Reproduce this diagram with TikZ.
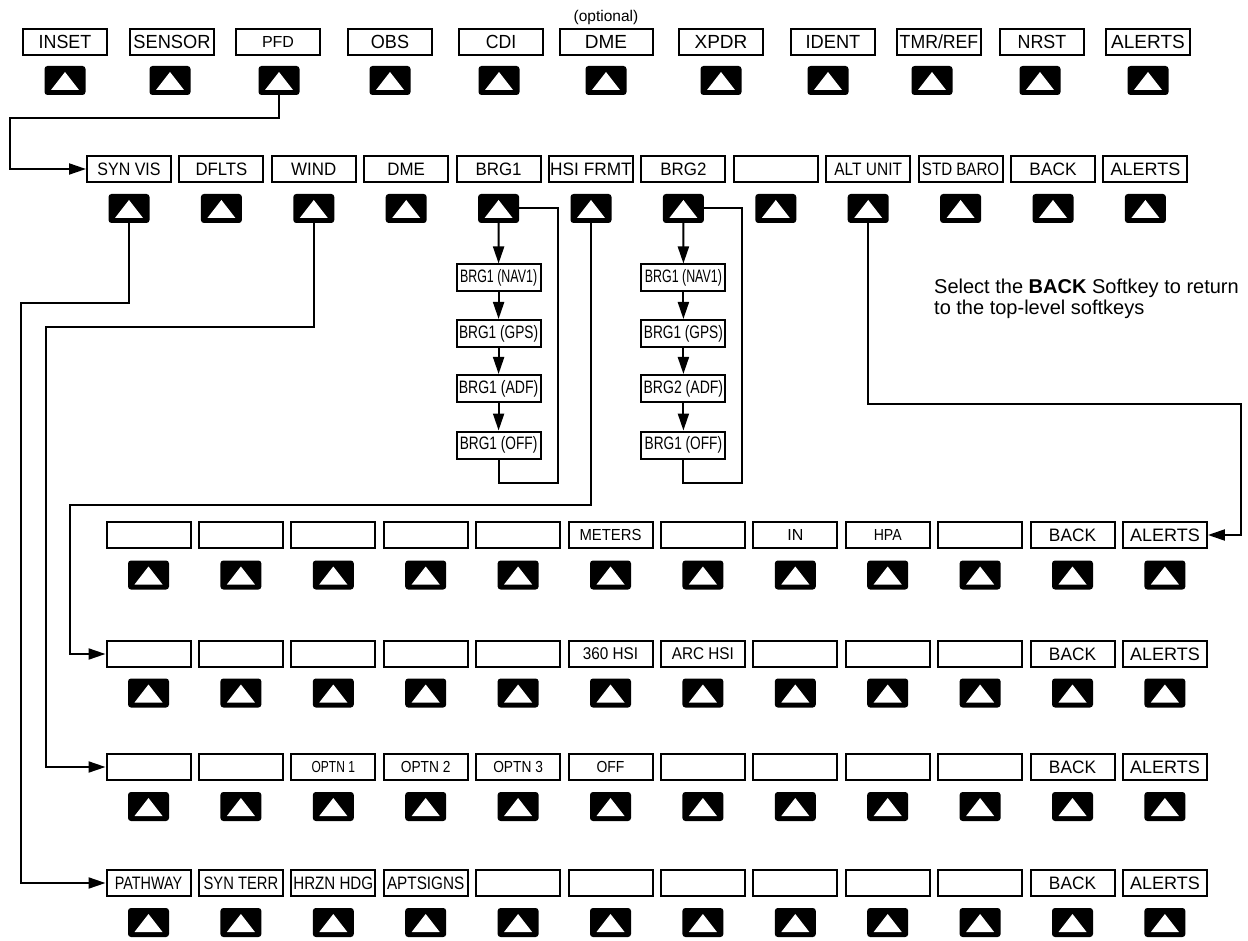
\documentclass[tikz,border=0pt]{standalone}
\usepackage{fontspec}
\usepackage{graphicx}
\setmainfont{Liberation Sans}
\usetikzlibrary{arrows.meta}
\newcommand{\sq}[2]{\scalebox{#1}[1]{#2}}
\newcommand{\sm}{\fontsize{16}{16}\selectfont}
\newcommand{\md}{\fontsize{17}{17}\selectfont}
\newcommand{\bg}{\fontsize{19}{19}\selectfont}
\begin{document}
\begin{tikzpicture}[x=1pt,y=-1pt,
  key/.style={draw, line width=2pt, minimum width=84pt, minimum height=26pt, inner sep=0pt, font=\fontsize{18}{18}\selectfont},
  btn/.style={fill=black, rounded corners=3pt, minimum width=41pt, minimum height=29pt, inner sep=0pt,
    path picture={\fill[white,sharp corners] ([xshift=-14pt,yshift=-9.5pt]path picture bounding box.center) -- ([xshift=14pt,yshift=-9.5pt]path picture bounding box.center) -- ([yshift=8.5pt]path picture bounding box.center) -- cycle;}},
  conn/.style={line width=2pt},
  arr/.style={conn, -{Triangle[length=17pt,width=11pt]}},
  sub/.style={key, minimum height=27pt, font=\fontsize{18}{18}\selectfont},
]
\useasboundingbox (0,0) rectangle (1248,941);

% top row
\foreach \n/\x/\bx/\w/\s/\t in {1/65/65/84/0.94/INSET, 2/172/170/84/0.96/SENSOR, 3/278/279/84/1/{\sm PFD}, 4/390/390/84/0.95/OBS, 5/501/499/84/0.93/CDI, 6/606/606/93/1/DME, 7/721/721/84/1/XPDR, 8/833/828/84/0.96/IDENT, 9/939/932/84/0.93/{TMR/REF}, 10/1042/1040/84/0.94/NRST, 11/1148/1148/84/1/ALERTS}{
  \node[key, minimum width=\w pt, font=\bg] (t\n) at (\x,42) {\sq{\s}{\t}};
  \node[btn] (tb\n) at (\bx,80.5) {};
}
\node[font=\fontsize{15.5}{15.5}\selectfont, inner sep=0pt] (opt) at (606,17) {(optional)};

% second row
\foreach \i/\s/\t in {0/0.89/SYN VIS,1/0.93/DFLTS,2/0.94/WIND,3/0.94/DME,4/0.94/BRG1,5/0.96/HSI FRMT,6/0.94/BRG2,7/1/{},8/0.86/ALT UNIT,9/0.84/STD BARO,10/0.96/BACK,11/1/ALERTS}{
  \node[key] (r2k\i) at ({129+92.4*\i},169) {\sq{\s}{\t}};
  \node[btn] (r2b\i) at ({129+92.4*\i},208.5) {};
}

% row 3
\foreach \i/\s/\t in {0/1/{},1/1/{},2/1/{},3/1/{},4/1/{},5/0.93/\sm METERS,6/1/{},7/1/\sm IN,8/0.88/\sm HPA,9/1/{},10/0.96/BACK,11/1/ALERTS}{
  \node[key] (r3k\i) at ({148.5+92.4*\i},535) {\sq{\s}{\t}};
  \node[btn] (r3b\i) at ({148.5+92.4*\i},575) {};
}
% row 4
\foreach \i/\s/\t in {0/1/{},1/1/{},2/1/{},3/1/{},4/1/{},5/0.9/\md 360 HSI,6/0.9/\md ARC HSI,7/1/{},8/1/{},9/1/{},10/0.96/BACK,11/1/ALERTS}{
  \node[key] (r4k\i) at ({148.5+92.4*\i},654) {\sq{\s}{\t}};
  \node[btn] (r4b\i) at ({148.5+92.4*\i},693) {};
}
% row 5
\foreach \i/\s/\t in {0/1/{},1/1/{},2/0.75/\sm OPTN 1,3/0.86/\sm OPTN 2,4/0.86/\sm OPTN 3,5/0.87/\sm OFF,6/1/{},7/1/{},8/1/{},9/1/{},10/0.96/BACK,11/1/ALERTS}{
  \node[key] (r5k\i) at ({148.5+92.4*\i},767) {\sq{\s}{\t}};
  \node[btn] (r5b\i) at ({148.5+92.4*\i},806.5) {};
}
% row 6
\foreach \i/\s/\t in {0/0.8/PATHWAY,1/0.82/SYN TERR,2/0.84/HRZN HDG,3/0.85/APTSIGNS,4/1/{},5/1/{},6/1/{},7/1/{},8/1/{},9/1/{},10/0.96/BACK,11/1/ALERTS}{
  \node[key] (r6k\i) at ({148.5+92.4*\i},883) {\sq{\s}{\t}};
  \node[btn] (r6b\i) at ({148.5+92.4*\i},922.5) {};
}

% BRG1 sub boxes
\node[sub] (s1a) at (498.6,278) {\sq{0.69}{BRG1 (NAV1)}};
\node[sub] (s1b) at (498.6,333.5) {\sq{0.76}{BRG1 (GPS)}};
\node[sub] (s1c) at (498.6,388.5) {\sq{0.78}{BRG1 (ADF)}};
\node[sub] (s1d) at (498.6,445) {\sq{0.76}{BRG1 (OFF)}};
% BRG2 sub boxes
\node[sub] (s2a) at (683.4,278) {\sq{0.69}{BRG1 (NAV1)}};
\node[sub] (s2b) at (683.4,333.5) {\sq{0.76}{BRG1 (GPS)}};
\node[sub] (s2c) at (683.4,388.5) {\sq{0.78}{BRG2 (ADF)}};
\node[sub] (s2d) at (683.4,445) {\sq{0.76}{BRG1 (OFF)}};

\draw[arr] (r2b4.south) -- (s1a.north);
\draw[arr] (s1a.south) -- (s1b.north);
\draw[arr] (s1b.south) -- (s1c.north);
\draw[arr] (s1c.south) -- (s1d.north);
\coordinate (l1) at (558,483);
\draw[conn] (r2b4.east) -| (l1) -| (s1d.south);

\draw[arr] (r2b6.south) -- (s2a.north);
\draw[arr] (s2a.south) -- (s2b.north);
\draw[arr] (s2b.south) -- (s2c.north);
\draw[arr] (s2c.south) -- (s2d.north);
\coordinate (l2) at (742,483);
\draw[conn] (r2b6.east) -| (l2) -| (s2d.south);

% main connectors
\coordinate (c1) at (10,118);
\draw[arr] (tb3.south) |- (c1) |- (r2k0.west);
\coordinate (c2) at (21,303);
\draw[arr] (r2b0.south) |- (c2) |- (r6k0.west);
\coordinate (c3) at (46,327);
\draw[arr] (r2b2.south) |- (c3) |- (r5k0.west);
\coordinate (c4) at (70,505);
\draw[arr] (r2b5.south) |- (c4) |- (r4k0.west);
\coordinate (c5) at (1241,404);
\draw[arr] (r2b8.south) |- (c5) |- (r3k11.east);

% note
\node[anchor=base west, font=\fontsize{20}{20}\selectfont, inner sep=0pt] (note1) at (934,294) {Select the \textbf{BACK} Softkey to return};
\node[anchor=base west, font=\fontsize{20}{20}\selectfont, inner sep=0pt] (note2) at (934,315) {to the top-level softkeys};
\end{tikzpicture}
\end{document}
